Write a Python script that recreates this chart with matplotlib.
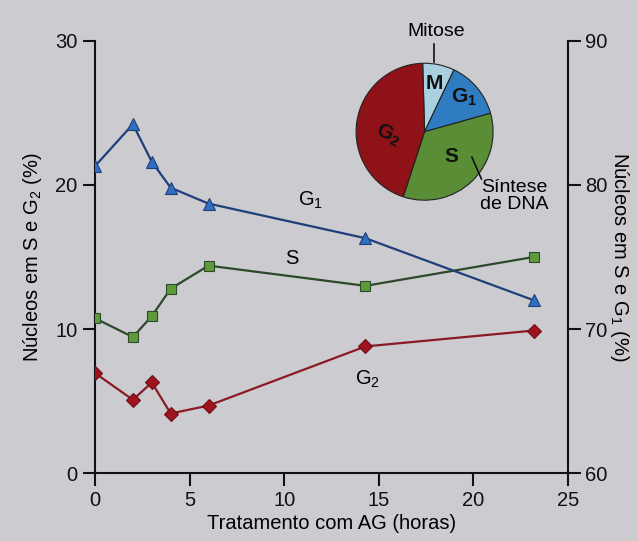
import matplotlib
matplotlib.use("Agg")
import matplotlib.pyplot as plt

plt.rcParams['font.family'] = ['Liberation Sans', 'DejaVu Sans']
plt.rcParams['mathtext.default'] = 'regular'

# Data
hours = [0, 2, 3, 4, 6, 14.3, 23.2]
g1_pct = [81.3, 84.2, 81.6, 79.8, 78.7, 76.3, 72.0]   # right axis
s_pct = [10.75, 9.45, 10.9, 12.8, 14.4, 13.0, 15.0]    # left axis
g2_pct = [6.95, 5.1, 6.3, 4.15, 4.7, 8.8, 9.9]         # left axis

pie_labels = ['M', '$G_1$', 'S', '$G_2$']
pie_values = [7.5, 13.6, 34.4, 44.5]

x_ticks = [0, 5, 10, 15, 20, 25]
left_ticks = [0, 10, 20, 30]
right_ticks = [60, 70, 80, 90]

bg = '#cbcbd0'
c_blue_line = '#1e3f7a'
c_blue = '#2f6fc0'
c_green_line = '#2c4a2a'
c_green = '#5e9a3c'
c_red_line = '#8a1a24'
c_red = '#a0121c'

fig = plt.figure(figsize=(6.38, 5.41), dpi=100, facecolor=bg)
ax = fig.add_axes([0.149, 0.125, 0.741, 0.80])
ax.set_facecolor('none')
ax2 = ax.twinx()
ax2.set_facecolor('none')

ax.plot(hours, s_pct, '-', color=c_green_line, lw=1.6, marker='s', ms=7,
        mfc=c_green, mec=c_green_line, mew=0.8, zorder=3)
ax.plot(hours, g2_pct, '-', color=c_red_line, lw=1.6, marker='D', ms=7.5,
        mfc=c_red, mec='#6a1018', mew=0.8, zorder=3)
ax2.plot(hours, g1_pct, '-', color=c_blue_line, lw=1.6, marker='^', ms=8,
         mfc=c_blue, mec=c_blue_line, mew=0.8, zorder=3)

ax.set_xlim(0, 25)
ax.set_ylim(0, 30)
ax2.set_ylim(60, 90)
ax.set_xticks(x_ticks)
ax.set_yticks(left_ticks)
ax2.set_yticks(right_ticks)

for a in (ax, ax2):
    a.spines['top'].set_visible(False)
    for s in a.spines.values():
        s.set_linewidth(1.5)
        s.set_color('#111111')
ax.spines['right'].set_visible(False)
ax2.spines['left'].set_visible(False)
ax2.spines['bottom'].set_visible(False)

ax.tick_params(axis='both', direction='out', length=9, width=1.5,
               labelsize=14.5, colors='#111111')
ax2.tick_params(axis='y', direction='out', length=9, width=1.5,
                labelsize=14.5, colors='#111111')

ax.set_xlabel('Tratamento com AG (horas)', fontsize=14.5, labelpad=3)
ax.set_ylabel('Núcleos em S e $G_2$ (%)', fontsize=14.5, labelpad=8)
ax2.set_ylabel('Núcleos em S e $G_1$ (%)', fontsize=14.5, rotation=270,
               labelpad=17)

# Inline series labels
ax2.text(11.4, 78.9, '$G_1$', fontsize=14.5, ha='center', va='center')
ax.text(10.4, 14.9, 'S', fontsize=14.5, ha='center', va='center')
ax.text(14.4, 6.5, '$G_2$', fontsize=14.5, ha='center', va='center')

# Pie inset
pax = fig.add_axes([0.556, 0.627, 0.219, 0.259])
pie_colors = ['#a9d0de', '#2f7cc0', '#5a8e36', '#8e1218']
wedges, _ = pax.pie(pie_values, colors=pie_colors, startangle=91.6,
                    counterclock=False,
                    wedgeprops=dict(edgecolor='#222222', linewidth=0.8))
pax.set_xlim(-1.02, 1.02)
pax.set_ylim(-1.02, 1.02)
pax.set_aspect('equal')
label_pos = [(0.14, 0.71), (0.57, 0.5), (0.39, -0.36), (-0.53, -0.04)]
for lbl, (lx, ly), rot in zip(pie_labels, label_pos, [0, 0, 0, -25]):
    pax.text(lx, ly, lbl, fontsize=15, fontweight='bold', ha='center',
             va='center', color='#111111', rotation=rot)
pax.plot([0.14, 0.14], [1.02, 1.28], color='#111111', lw=1.2, clip_on=False)
pax.text(0.17, 1.46, 'Mitose', fontsize=14, ha='center', va='center')
pax.plot([0.69, 0.83], [-0.37, -0.69], color='#111111', lw=1.2, clip_on=False)
pax.text(1.31, -0.94, 'Síntese\nde DNA', fontsize=14, ha='center',
         va='center', linespacing=1.0)

fig.savefig('out.png', dpi=100, facecolor=bg)
